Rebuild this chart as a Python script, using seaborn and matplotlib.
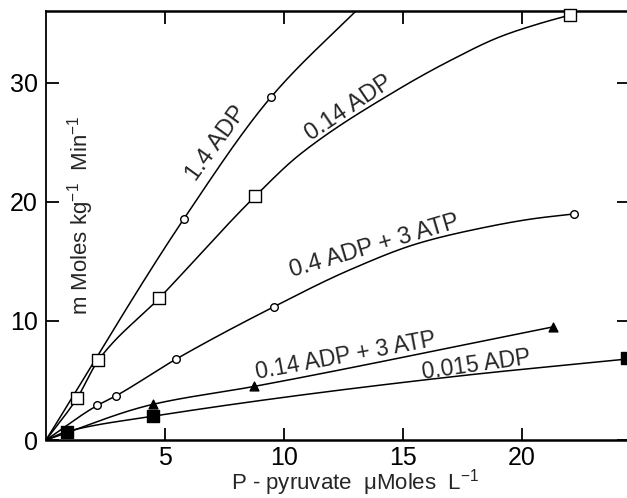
import numpy as np
import pandas as pd
import matplotlib
matplotlib.use("Agg")
import matplotlib.pyplot as plt
from matplotlib import font_manager
import seaborn as sns

# ---- data ----
# marker points
adp14_x = [5.8, 9.45]
adp14_y = [18.6, 28.8]
adp014_x = [1.3, 2.2, 4.75, 8.8, 22.0]
adp014_y = [3.5, 6.7, 11.9, 20.5, 35.7]
adp04atp_x = [2.15, 2.93, 5.47, 9.58, 22.2]
adp04atp_y = [2.9, 3.7, 6.8, 11.2, 19.0]
adp014atp_x = [4.5, 8.74, 21.3]
adp014atp_y = [3.0, 4.5, 9.5]
adp0015_x = [0.87, 4.5, 24.4]
adp0015_y = [0.7, 2.0, 6.9]

# hand-drawn curves
adp14_curve_x = [0.0, 5.8, 9.45, 13.3]
adp14_curve_y = [0.0, 18.6, 28.8, 36.6]
adp014_curve_x = [0.0, 1.3, 2.2, 4.75, 8.8, 10.67, 14.75, 17.0, 19.1, 20.75, 22.0]
adp014_curve_y = [0.0, 3.5, 6.7, 11.9, 20.5, 24.0, 29.4, 31.9, 33.9, 35.0, 35.7]
adp04atp_curve_x = [0.0, 2.15, 2.93, 5.47, 9.58, 12.77, 15.6, 17.8, 20.5, 22.2]
adp04atp_curve_y = [0.0, 2.9, 3.7, 6.8, 11.2, 14.3, 16.5, 17.6, 18.6, 19.0]
adp014atp_curve_x = [0.0, 4.5, 8.74, 21.3]
adp014atp_curve_y = [0.0, 3.0, 4.5, 9.5]
adp0015_curve_x = [0.0, 0.87, 4.5, 17.0, 24.4]
adp0015_curve_y = [0.0, 0.7, 2.0, 5.3, 6.8]

labels = ["1.4 ADP", "0.14 ADP", "0.4 ADP + 3 ATP", "0.14 ADP + 3 ATP", "0.015 ADP"]
x_ticks = [5, 10, 15, 20]
y_ticks = [0, 10, 20, 30]


def pchip(xs, ys, n=400):
    xs = np.asarray(xs, float); ys = np.asarray(ys, float)
    h = np.diff(xs); d = np.diff(ys) / h
    m = np.zeros_like(xs)
    m[0] = d[0]; m[-1] = d[-1]
    for i in range(1, len(xs) - 1):
        if d[i - 1] * d[i] <= 0:
            m[i] = 0
        else:
            w1 = 2 * h[i] + h[i - 1]; w2 = h[i] + 2 * h[i - 1]
            m[i] = (w1 + w2) / (w1 / d[i - 1] + w2 / d[i])
    xx = np.linspace(xs[0], xs[-1], n)
    idx = np.clip(np.searchsorted(xs, xx) - 1, 0, len(xs) - 2)
    t = (xx - xs[idx]) / h[idx]
    h00 = 2*t**3 - 3*t**2 + 1; h10 = t**3 - 2*t**2 + t
    h01 = -2*t**3 + 3*t**2; h11 = t**3 - t**2
    yy = h00*ys[idx] + h10*h[idx]*m[idx] + h01*ys[idx+1] + h11*h[idx]*m[idx+1]
    return xx, yy


sns.set_theme(style="ticks")
avail = {f.name for f in font_manager.fontManager.ttflist}
main_font = "Liberation Sans" if "Liberation Sans" in avail else "DejaVu Sans"
plt.rcParams["font.family"] = [main_font, "DejaVu Sans"]
plt.rcParams["mathtext.fontset"] = "custom"
plt.rcParams["mathtext.rm"] = main_font
plt.rcParams["mathtext.it"] = main_font + ":italic"

fig = plt.figure(figsize=(6.27, 4.98), dpi=100)
ax = fig.add_axes([46/627, 58/498, 583/627, 429/498])

lw = 1.1
curves = [
    (adp14_curve_x, adp14_curve_y),
    (adp014_curve_x, adp014_curve_y),
    (adp04atp_curve_x, adp04atp_curve_y),
    (adp014atp_curve_x, adp014atp_curve_y),
    (adp0015_curve_x, adp0015_curve_y),
]
for cx, cy in curves:
    xx, yy = pchip(cx, cy)
    df = pd.DataFrame({"x": xx, "y": yy})
    sns.lineplot(data=df, x="x", y="y", ax=ax, color="black", lw=lw,
                 estimator=None, sort=False)

mk = [
    (adp14_x, adp14_y, "o", "white", 30),
    (adp014_x, adp014_y, "s", "white", 64),
    (adp04atp_x, adp04atp_y, "o", "white", 30),
    (adp014atp_x, adp014atp_y, "^", "black", 40),
    (adp0015_x, adp0015_y, "s", "black", 64),
]
for mx, my, m, fc, s in mk:
    sns.scatterplot(x=mx, y=my, ax=ax, marker=m, s=s, facecolor=fc,
                    edgecolor="black", linewidth=1.0, zorder=5, clip_on=False)

ax.set_xlim(0, 24.5)
ax.set_ylim(0, 36.05)
ax.set_xticks(x_ticks)
ax.set_yticks(y_ticks)
ax.tick_params(direction="in", length=9, width=1.3, top=True, right=True,
               labelsize=18, colors="black")
ax.tick_params(axis="x", pad=4)
ax.tick_params(axis="y", pad=6)
for side in ["left", "bottom", "top", "right"]:
    ax.spines[side].set_visible(True)
    ax.spines[side].set_color("black")
ax.spines["left"].set_linewidth(1.3)
ax.spines["bottom"].set_linewidth(1.8)
ax.spines["top"].set_linewidth(1.8)
ax.spines["right"].set_linewidth(1.3)
ax.set_xlabel("")
ax.set_ylabel("")

ax.text(7.15, 24.9, labels[0], rotation=54, ha="center", va="center",
        fontsize=17, rotation_mode="anchor")
ax.text(12.75, 27.9, labels[1], rotation=34, ha="center", va="center",
        fontsize=17, rotation_mode="anchor")
ax.text(13.8, 16.3, labels[2], rotation=16.5, ha="center", va="center",
        fontsize=17, rotation_mode="anchor")
ax.text(12.6, 7.1, labels[3], rotation=10.5, ha="center", va="center",
        fontsize=16.5, rotation_mode="anchor")
ax.text(18.1, 6.3, labels[4], rotation=8, ha="center", va="center",
        fontsize=16.5, rotation_mode="anchor")

ax.text(1.45, 18.9, r"m Moles kg$^{-1}$  Min$^{-1}$", rotation=90,
        ha="center", va="center", fontsize=16)
ax.text(13.0, -0.1, "P - pyruvate  \u03bcMoles  L$^{-1}$",
        transform=ax.get_xaxis_transform(), ha="center", va="center", fontsize=16)

fig.savefig("out.png", dpi=100)
